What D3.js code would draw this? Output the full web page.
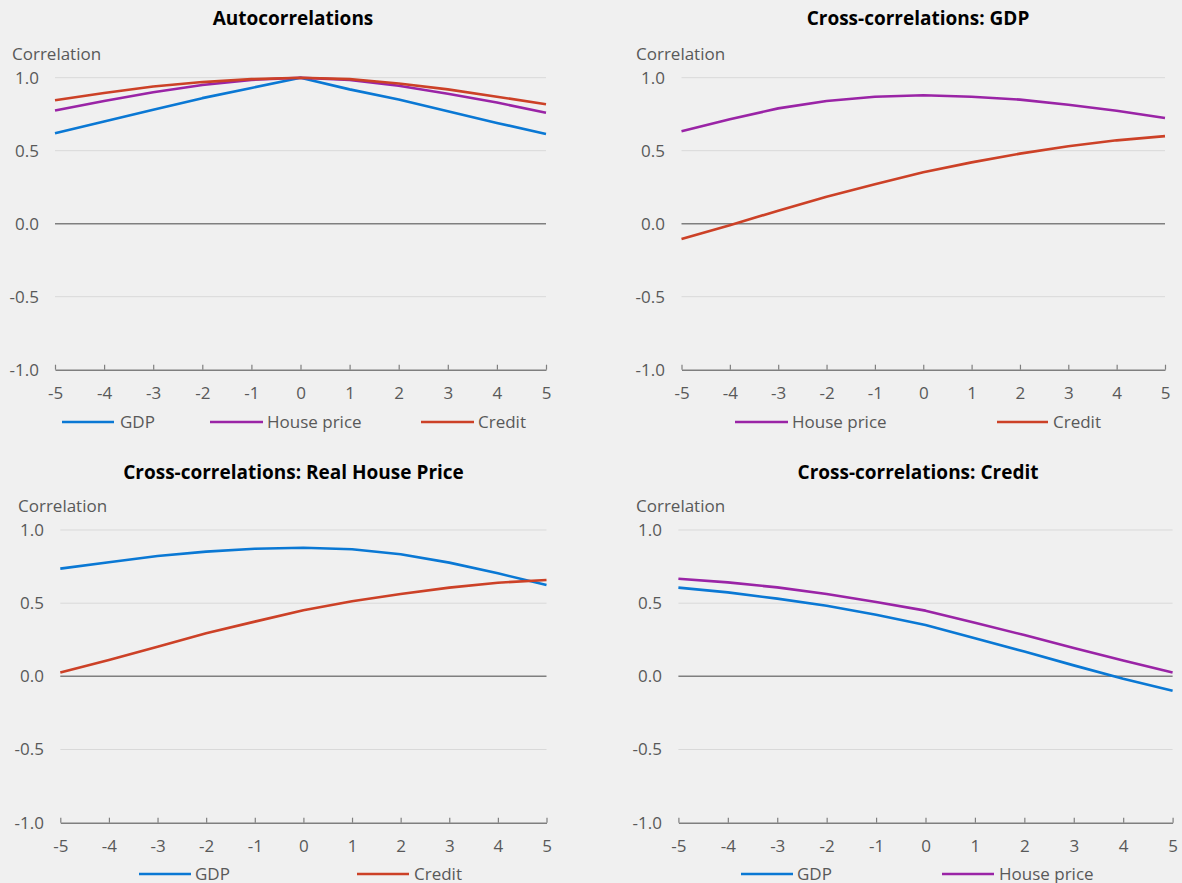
<!DOCTYPE html>
<html>
<head>
<meta charset="utf-8">
<script src="https://cdn.jsdelivr.net/npm/d3@7"></script>
<style>
  html, body { margin: 0; padding: 0; background: #f0f0f0; }
  svg { display: block; }
  text { font-family: "Open Sans", "Noto Sans", sans-serif; }
</style>
</head>
<body>
<svg id="chart" width="1182" height="883"></svg>
<script>
// ---- Data ----
const lags = [-5, -4, -3, -2, -1, 0, 1, 2, 3, 4, 5];
const yTicks = [-1.0, -0.5, 0.0, 0.5, 1.0];

const titles = ["Autocorrelations", "Cross-correlations: GDP", "Cross-correlations: Real House Price", "Cross-correlations: Credit"];

// Panel 1: Autocorrelations
const autoGDP    = [0.62, 0.70, 0.78, 0.86, 0.93, 1.00, 0.92, 0.85, 0.77, 0.69, 0.615];
const autoHouse  = [0.775, 0.84, 0.90, 0.95, 0.985, 1.00, 0.985, 0.945, 0.89, 0.83, 0.76];
const autoCredit = [0.845, 0.895, 0.94, 0.97, 0.99, 1.00, 0.99, 0.96, 0.92, 0.87, 0.818];

// Panel 2: Cross-correlations with GDP
const gdpHouse  = [0.633, 0.715, 0.79, 0.84, 0.87, 0.88, 0.87, 0.85, 0.815, 0.774, 0.724];
const gdpCredit = [-0.105, -0.01, 0.089, 0.185, 0.27, 0.352, 0.42, 0.48, 0.53, 0.571, 0.60];

// Panel 3: Cross-correlations with real house price
const hpGDP    = [0.736, 0.78, 0.822, 0.852, 0.872, 0.879, 0.868, 0.834, 0.777, 0.704, 0.624];
const hpCredit = [0.027, 0.112, 0.203, 0.294, 0.374, 0.451, 0.513, 0.563, 0.606, 0.64, 0.658];

// Panel 4: Cross-correlations with credit
const crGDP   = [0.606, 0.574, 0.531, 0.483, 0.421, 0.351, 0.26, 0.169, 0.075, -0.016, -0.098];
const crHouse = [0.667, 0.642, 0.608, 0.563, 0.508, 0.449, 0.367, 0.282, 0.194, 0.109, 0.027];

const seriesNames = { gdp: "GDP", house: "House price", credit: "Credit" };
const colors = { gdp: "#0a78d4", house: "#9a24a6", credit: "#cc4127" };

// ---- Layout (positions only) ----
const panels = [
  { title: titles[0], x0: 55, x1: 546, yTop: 77.7, yBot: 369.7, titleX: 293, titleY: 25, corrX: 12, labelRight: 39,
    series: [["gdp", autoGDP], ["house", autoHouse], ["credit", autoCredit]],
    legendY: 422, legend: [[62, 114, 120], [210, 263, 267], [421, 474, 478]] },
  { title: titles[1], x0: 681.5, x1: 1165, yTop: 77.7, yBot: 369.7, titleX: 918, titleY: 25, corrX: 636, labelRight: 665,
    series: [["house", gdpHouse], ["credit", gdpCredit]],
    legendY: 422, legend: [[735, 788, 792], [997, 1048, 1053]] },
  { title: titles[2], x0: 60.3, x1: 546.5, yTop: 530, yBot: 822.7, titleX: 293.5, titleY: 479, corrX: 18, labelRight: 44,
    series: [["gdp", hpGDP], ["credit", hpCredit]],
    legendY: 874, legend: [[139, 191, 195], [357, 409, 414]] },
  { title: titles[3], x0: 678.4, x1: 1172.6, yTop: 530, yBot: 822.7, titleX: 918, titleY: 479, corrX: 636, labelRight: 662,
    series: [["gdp", crGDP], ["house", crHouse]],
    legendY: 874, legend: [[741, 793, 797], [942, 994, 999]] }
];

const svg = d3.select("#chart");
const textColor = "#595959";
const hyph = f => d => f(d).replace("\u2212", "-");

panels.forEach(p => {
  const g = svg.append("g");
  const x = d3.scaleLinear().domain([-5, 5]).range([p.x0, p.x1]);
  const y = d3.scaleLinear().domain([-1, 1]).range([p.yBot, p.yTop]);

  // title
  g.append("text").attr("x", p.titleX).attr("y", p.titleY)
    .attr("text-anchor", "middle").attr("font-size", 19).attr("font-weight", "bold")
    .attr("fill", "#000").text(p.title);

  // axis label
  g.append("text").attr("x", p.corrX).attr("y", y(1) - 18)
    .attr("font-size", 17).attr("fill", textColor).text("Correlation");

  // gridlines
  g.selectAll(".grid").data(yTicks.filter(v => v !== 0 && v !== -1)).join("line")
    .attr("x1", p.x0).attr("x2", p.x1)
    .attr("y1", d => y(d)).attr("y2", d => y(d))
    .attr("stroke", "#d9d9d9").attr("stroke-width", 1);

  // zero line
  g.append("line").attr("x1", p.x0).attr("x2", p.x1)
    .attr("y1", y(0)).attr("y2", y(0))
    .attr("stroke", "#7f7f7f").attr("stroke-width", 1.5);

  // y-axis labels
  const yAxis = d3.axisLeft(y).tickValues(yTicks).tickFormat(hyph(d3.format(".1f"))).tickSize(0).tickPadding(0);
  const ya = g.append("g").attr("transform", `translate(${p.labelRight},0)`).call(yAxis);
  ya.select(".domain").remove();
  ya.selectAll("text").attr("font-size", 17).attr("fill", textColor)
    .style("font-family", '"Open Sans", sans-serif');

  // x-axis at -1 with ticks pointing upward
  const xAxis = d3.axisTop(x).tickValues(lags).tickFormat(hyph(d3.format("d"))).tickSizeOuter(0).tickSizeInner(5);
  const xa = g.append("g").attr("transform", `translate(0,${y(-1)})`).call(xAxis);
  xa.select(".domain").attr("stroke", "#7f7f7f").attr("stroke-width", 1.5);
  xa.selectAll(".tick line").attr("stroke", "#7f7f7f").attr("stroke-width", 1.2);
  xa.selectAll("text").attr("y", 29).attr("font-size", 17).attr("fill", textColor)
    .style("font-family", '"Open Sans", sans-serif');

  // lines
  const line = d3.line().x((d, i) => x(lags[i])).y(d => y(d)).curve(d3.curveLinear);
  p.series.forEach(([key, vals]) => {
    g.append("path").datum(vals).attr("d", line)
      .attr("fill", "none").attr("stroke", colors[key]).attr("stroke-width", 2.6)
      .attr("stroke-linejoin", "round");
  });

  // legend
  p.series.forEach(([key], i) => {
    const [lx0, lx1, tx] = p.legend[i];
    g.append("line").attr("x1", lx0).attr("x2", lx1)
      .attr("y1", p.legendY).attr("y2", p.legendY)
      .attr("stroke", colors[key]).attr("stroke-width", 2.6);
    g.append("text").attr("x", tx).attr("y", p.legendY).attr("dy", "0.35em")
      .attr("font-size", 17).attr("fill", textColor).text(seriesNames[key]);
  });
});
</script>
</body>
</html>
